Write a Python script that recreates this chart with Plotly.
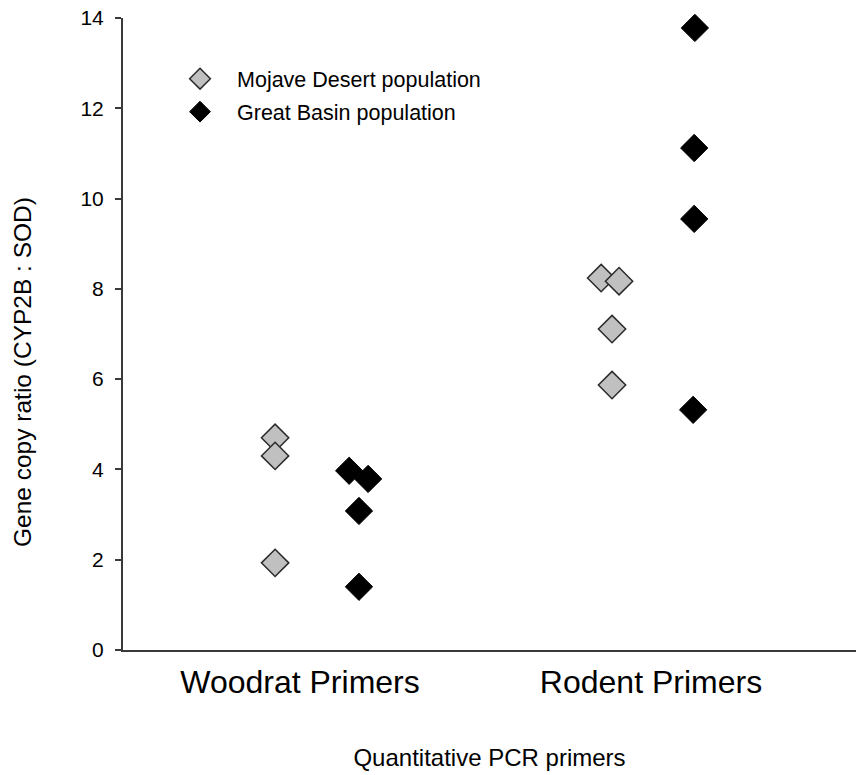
import plotly.graph_objects as go

# ---- data ----
categories = ["Woodrat Primers", "Rodent Primers"]
category_pos = [1, 2]

# Mojave Desert population
mojave_cat = [0, 0, 0, 1, 1, 1, 1]
mojave_jitter = [-0.071, -0.071, -0.071, -0.142, -0.091, -0.111, -0.111]
mojave_y = [4.70, 4.30, 1.93, 8.24, 8.17, 7.11, 5.87]

# Great Basin population
basin_cat = [0, 0, 0, 0, 1, 1, 1, 1]
basin_jitter = [0.140, 0.194, 0.168, 0.168, 0.125, 0.123, 0.123, 0.120]
basin_y = [3.97, 3.79, 3.08, 1.40, 13.78, 11.12, 9.55, 5.32]

y_ticks = [0, 2, 4, 6, 8, 10, 12, 14]

mojave_x = [category_pos[c] + j for c, j in zip(mojave_cat, mojave_jitter)]
basin_x = [category_pos[c] + j for c, j in zip(basin_cat, basin_jitter)]

FONT = "Liberation Sans, Arial, sans-serif"

fig = go.Figure()
fig.add_trace(go.Scatter(
    x=mojave_x, y=mojave_y, mode="markers", name="Mojave Desert population",
    legendgroup="mojave",
    marker=dict(symbol="diamond", size=21, color="#c0c0c0",
                line=dict(color="#2a2a2a", width=1.5)),
    cliponaxis=False,
))
fig.add_trace(go.Scatter(
    x=basin_x, y=basin_y, mode="markers", name="Great Basin population",
    legendgroup="basin",
    marker=dict(symbol="diamond", size=21, color="#000000",
                line=dict(color="#000000", width=1)),
    cliponaxis=False,
))

fig.update_layout(
    width=856, height=775,
    margin=dict(l=123, r=0, t=18, b=125),
    plot_bgcolor="white", paper_bgcolor="white",
    font=dict(family=FONT, color="#000000"),
    showlegend=True,
    legend=dict(
        x=0.0546, y=0.9363, xanchor="left", yanchor="top",
        bgcolor="rgba(0,0,0,0)", font=dict(size=21.5, family=FONT),
        itemwidth=64, tracegroupgap=2,
    ),
    xaxis=dict(
        range=[0.4957, 2.584], showgrid=False, zeroline=False,
        showline=True, linecolor="#3a3a3a", linewidth=2,
        tickmode="array", tickvals=category_pos, ticktext=categories,
        ticks="", tickfont=dict(size=32, family=FONT), ticklabelstandoff=3,
        title=dict(text="Quantitative PCR primers", font=dict(size=24, family=FONT), standoff=50),
        fixedrange=True,
    ),
    yaxis=dict(
        range=[0, 14], showgrid=False, zeroline=False,
        showline=True, linecolor="#3a3a3a", linewidth=2,
        tickmode="array", tickvals=y_ticks,
        ticks="outside", ticklen=6, tickwidth=1.5, tickcolor="#3a3a3a",
        tickfont=dict(size=21, family=FONT), ticklabelstandoff=7,
        fixedrange=True,
    ),
    annotations=[dict(
        text="Gene copy ratio (CYP2B : SOD)", textangle=-90,
        xref="paper", yref="paper", x=-0.1378, y=(650 - 372) / 632,
        xanchor="center", yanchor="middle", showarrow=False,
        font=dict(size=24.5, family=FONT),
    )],
)

fig.write_html("out.html", config={"displayModeBar": False},
               post_script="document.body.style.margin='0px';")
